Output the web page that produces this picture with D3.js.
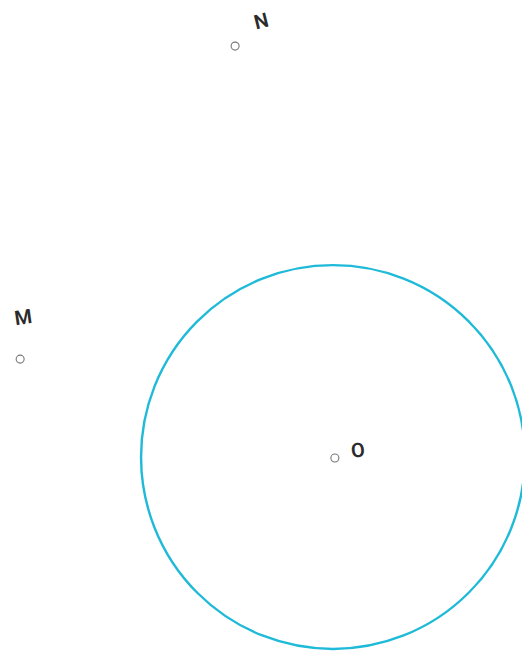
<!DOCTYPE html>
<html>
<head>
<meta charset="utf-8">
<script src="https://cdn.jsdelivr.net/npm/d3@7"></script>
<style>
  html, body { margin: 0; padding: 0; background: #fff; }
  svg { display: block; }
</style>
</head>
<body>
<div id="chart"></div>
<script>
// figure data, in plane units (O at origin)
const pointNames = ["N", "M", "O"];
const pointX = [-2.04, -6.52, 0.04];
const pointY = [8.56, 2.04, -0.02];
const circleRadius = [4];

const width = 522;
const height = 651;

const x = d3.scaleLinear().domain([-6.94, 3.94]).range([0, width]);
const y = d3.scaleLinear().domain([9.52, -4.04]).range([0, height]);

const svg = d3.select("#chart").append("svg")
  .attr("width", width)
  .attr("height", height);

const points = pointNames.map((name, i) => ({ name: name, x: pointX[i], y: pointY[i] }));

// label placement around each point (pixels)
const labelPos = {
  N: { dx: 26, dy: -25, rot: -14 },
  M: { dx: 3, dy: -42, rot: -8 },
  O: { dx: 23, dy: -8, rot: -6 }
};

svg.append("circle")
  .attr("cx", x(0))
  .attr("cy", y(0))
  .attr("r", x(circleRadius[0]) - x(0))
  .attr("fill", "none")
  .attr("stroke", "#1fbad8")
  .attr("stroke-width", 2.4);

svg.append("g")
  .selectAll("circle")
  .data(points)
  .enter()
  .append("circle")
  .attr("cx", (d) => x(d.x))
  .attr("cy", (d) => y(d.y))
  .attr("r", 4)
  .attr("fill", "#fff")
  .attr("stroke", "#777")
  .attr("stroke-width", 1.1);

svg.append("g")
  .selectAll("text")
  .data(points)
  .enter()
  .append("text")
  .attr("transform", (d) => {
    const p = labelPos[d.name];
    return `translate(${x(d.x) + p.dx},${y(d.y) + p.dy}) rotate(${p.rot})`;
  })
  .attr("text-anchor", "middle")
  .attr("dominant-baseline", "central")
  .style("font-family", "Roboto, Arial, sans-serif")
  .style("font-weight", "600")
  .style("font-size", "20px")
  .style("fill", "#2b2b2b")
  .text((d) => d.name);
</script>
</body>
</html>
